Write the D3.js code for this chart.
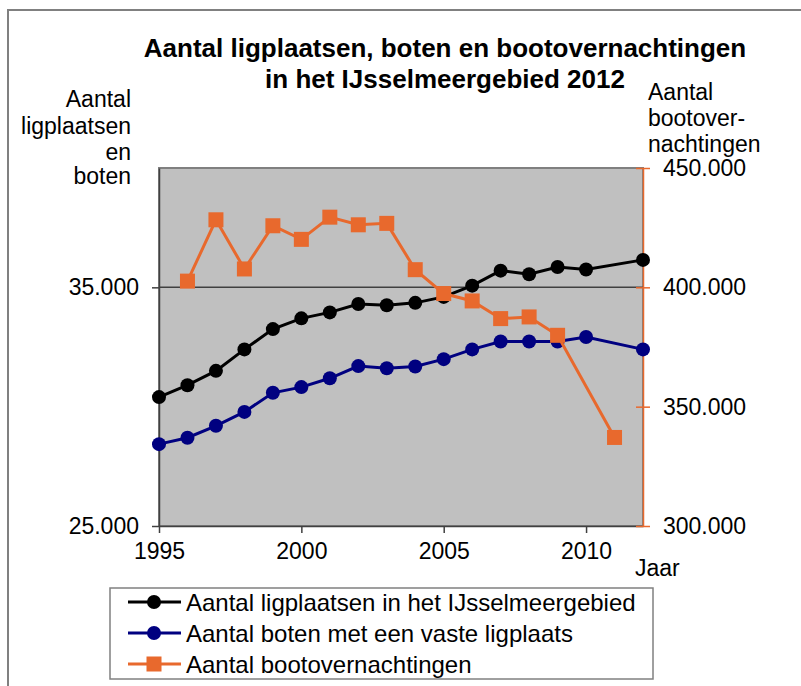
<!doctype html>
<html>
<head>
<script src="https://cdnjs.cloudflare.com/ajax/libs/d3/7.8.5/d3.min.js"></script>
<style>
body { margin: 0; background: #fff; }
text {
  font-family: "Liberation Sans", Arial, sans-serif;
  font-size: 23px;
  fill: #000;
}
text.title { font-size: 26px; font-weight: bold; text-anchor: middle; }
.axis path, .axis line { stroke: #404040; stroke-width: 1.5px; }
.axis.right path, .axis.right line { stroke: #E8692D; }
.axis text { font-size: 23px; fill: #000; }
</style>
</head>
<body>
<svg id="chart" width="801" height="686"></svg>
<script>
var years = [1995, 1996, 1997, 1998, 1999, 2000, 2001, 2002, 2003, 2004, 2005, 2006, 2007, 2008, 2009, 2010, 2011, 2012]
var ligplaatsen = [30400, 30900, 31500, 32400, 33250, 33700, 33950, 34300, 34250, 34350, 34600, 35070, 35700, 35550, 35850, 35750, null, 36150]
var boten = [28430, 28700, 29200, 29780, 30580, 30820, 31190, 31700, 31610, 31680, 31990, 32400, 32730, 32730, 32730, 32920, null, 32400]
var overnachtingen = [null, 402600, 428300, 407700, 425800, 420100, 429400, 426200, 426800, 407400, 397400, 394300, 386900, 387600, 379900, null, 337100, null]
var xTicks = [1995, 2000, 2005, 2010]
var leftTicks = [25000, 35000]
var rightTicks = [300000, 350000, 400000, 450000]
var seriesNames = ["Aantal ligplaatsen in het IJsselmeergebied", "Aantal boten met een vaste ligplaats", "Aantal bootovernachtingen"]

var nl = d3.formatLocale({decimal: ",", thousands: ".", grouping: [3], currency: ["€", ""]})
var fmt = nl.format(",d")

var svg = d3.select("#chart")
var pLeft = 159, pRight = 643, pTop = 168, pBottom = 526

var x = d3.scaleLinear().domain([1995, 2012]).range([pLeft, pRight])
var yL = d3.scaleLinear().domain([25000, 40000]).range([pBottom, pTop])
var yR = d3.scaleLinear().domain([300000, 450000]).range([pBottom, pTop])

// outer frame
svg.append("rect").attr("x", 8).attr("y", 10).attr("width", 820).attr("height", 700)
  .attr("fill", "none").attr("stroke", "#808080").attr("stroke-width", 2)

svg.append("text").attr("class", "title").attr("x", 445).attr("y", 57).text("Aantal ligplaatsen, boten en bootovernachtingen")
svg.append("text").attr("class", "title").attr("x", 445).attr("y", 88).text("in het IJsselmeergebied 2012")

// plot area
svg.append("rect").attr("x", pLeft).attr("y", pTop).attr("width", pRight - pLeft).attr("height", pBottom - pTop)
  .attr("fill", "#C0C0C0").attr("stroke", "#808080").attr("stroke-width", 2)

// gridline
svg.append("g").selectAll("line").data([35000]).enter().append("line")
  .attr("x1", pLeft).attr("x2", pRight).attr("y1", d => yL(d)).attr("y2", d => yL(d))
  .attr("stroke", "#404040").attr("stroke-width", 1.5)

svg.append("g").attr("class", "axis").attr("transform", "translate(0," + pBottom + ")")
  .call(d3.axisBottom(x).tickValues(xTicks).tickSize(7).tickSizeOuter(0).tickPadding(10).tickFormat(d3.format("d")))

svg.append("g").attr("class", "axis").attr("transform", "translate(" + pLeft + ",0)")
  .call(d3.axisLeft(yL).tickValues(leftTicks).tickSize(7).tickSizeOuter(0).tickPadding(13).tickFormat(fmt))

var ra = svg.append("g").attr("class", "axis right").attr("transform", "translate(" + pRight + ",0)")
  .call(d3.axisRight(yR).tickValues(rightTicks).tickSize(7).tickSizeOuter(0).tickPadding(13).tickFormat(fmt))
ra.selectAll(".tick line").attr("x1", -7)
ra.select(".domain").attr("stroke-width", 2)

// axis titles
var lt = svg.append("text").attr("text-anchor", "end")
;[["Aantal", 107], ["ligplaatsen", 134], ["en", 160], ["boten", 184]].forEach(function(r) {
  lt.append("tspan").attr("x", 131).attr("y", r[1]).text(r[0])
})
var rt = svg.append("text")
;[["Aantal", 100], ["bootover-", 126], ["nachtingen", 152]].forEach(function(r) {
  rt.append("tspan").attr("x", 648).attr("y", r[1]).text(r[0])
})
svg.append("text").attr("x", 635).attr("y", 576).text("Jaar")

// series
var series = [
  {name: seriesNames[0], values: ligplaatsen, y: yL, color: "#000000", shape: "circle"},
  {name: seriesNames[1], values: boten, y: yL, color: "#000080", shape: "circle"},
  {name: seriesNames[2], values: overnachtingen, y: yR, color: "#E8692D", shape: "square"}
]

series.forEach(function(s) {
  var pts = years.map((yr, i) => ({year: yr, v: s.values[i]})).filter(d => d.v != null)
  var line = d3.line().x(d => x(d.year)).y(d => s.y(d.v))
  var g = svg.append("g")
  g.append("path").datum(pts).attr("d", line).attr("fill", "none")
    .attr("stroke", s.color).attr("stroke-width", 3)
  if (s.shape == "circle") {
    g.selectAll("circle").data(pts).enter().append("circle")
      .attr("cx", d => x(d.year)).attr("cy", d => s.y(d.v)).attr("r", 7).attr("fill", s.color)
  } else {
    g.selectAll("rect").data(pts).enter().append("rect")
      .attr("x", d => x(d.year) - 7.5).attr("y", d => s.y(d.v) - 7.5)
      .attr("width", 15).attr("height", 15).attr("fill", s.color)
  }
})

// legend
var lg = svg.append("g").attr("transform", "translate(110,588)")
lg.append("rect").attr("width", 543).attr("height", 91).attr("fill", "#fff")
  .attr("stroke", "#808080").attr("stroke-width", 1.5)
var items = lg.selectAll("g.item").data(series).enter().append("g")
  .attr("class", "item").attr("transform", (d, i) => "translate(0," + (14 + i * 31) + ")")
items.append("line").attr("x1", 18).attr("x2", 71).attr("stroke", d => d.color).attr("stroke-width", 3)
items.filter(d => d.shape == "circle").append("circle").attr("cx", 44).attr("r", 7).attr("fill", d => d.color)
items.filter(d => d.shape == "square").append("rect").attr("x", 36.5).attr("y", -7.5)
  .attr("width", 15).attr("height", 15).attr("fill", d => d.color)
items.append("text").attr("x", 76).attr("y", 9).style("font-size", "24px").text(d => d.name)
</script>
</body>
</html>
